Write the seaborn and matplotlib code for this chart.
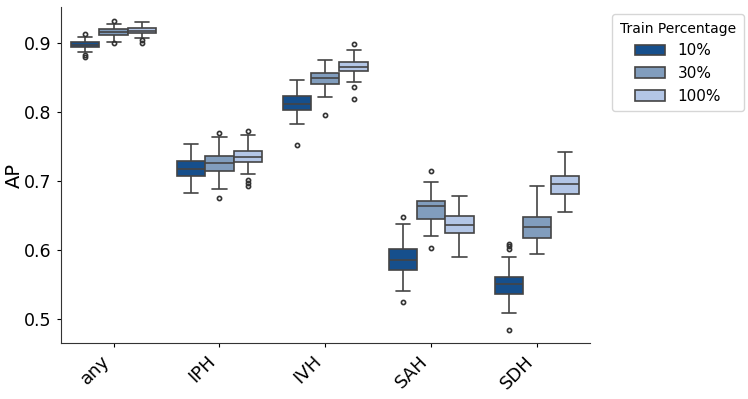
import matplotlib
matplotlib.use("Agg")
import matplotlib.pyplot as plt
import pandas as pd
import seaborn as sns

# Categories and hue levels
categories = ["any", "IPH", "IVH", "SAH", "SDH"]
groups = ["10%", "30%", "100%"]
colors = ["#164f8c", "#819dbd", "#b3c6e6"]

# Box statistics, one list per group (order = categories)
q1_10 = [0.8937, 0.7076, 0.8025, 0.5713, 0.5359]
med_10 = [0.8971, 0.7172, 0.8113, 0.5858, 0.5505]
q3_10 = [0.9004, 0.7288, 0.8229, 0.6008, 0.5601]
wlo_10 = [0.8859, 0.6818, 0.7822, 0.5407, 0.5087]
whi_10 = [0.9083, 0.7531, 0.8462, 0.6377, 0.5897]
out_lo_10 = [[0.882, 0.879], [], [0.7521], [0.5252], [0.4840]]
out_hi_10 = [[0.9127], [], [], [0.6470], [0.6087, 0.6055, 0.6015]]

q1_30 = [0.9116, 0.7148, 0.8404, 0.6450, 0.6174]
med_30 = [0.9156, 0.7265, 0.8495, 0.6629, 0.6338]
q3_30 = [0.9193, 0.7356, 0.8568, 0.6712, 0.6474]
wlo_30 = [0.9015, 0.6876, 0.8219, 0.6207, 0.5941]
whi_30 = [0.9276, 0.7628, 0.8743, 0.6978, 0.6920]
out_lo_30 = [[0.8990], [0.6745], [0.7957], [0.6033], []]
out_hi_30 = [[0.9320], [0.7686], [], [0.7148], []]

q1_100 = [0.9141, 0.7269, 0.8588, 0.6241, 0.6814]
med_100 = [0.9175, 0.7352, 0.8655, 0.6363, 0.6959]
q3_100 = [0.9208, 0.7439, 0.8724, 0.6484, 0.7070]
wlo_100 = [0.9063, 0.7095, 0.8433, 0.5902, 0.6556]
whi_100 = [0.9295, 0.7662, 0.8888, 0.6779, 0.7419]
out_lo_100 = [[0.9033, 0.9000], [0.7005, 0.6970, 0.6930], [0.8356, 0.8185], [], []]
out_hi_100 = [[], [0.7724], [0.8985], [], []]


def expand(q1, med, q3, wlo, whi, lo, hi):
    """Build 17 values whose linear percentiles give the drawn box."""
    low = lo + [wlo] * (4 - len(lo))
    high = hi + [whi] * (4 - len(hi))
    return low + [q1] + [med] * 3 + [med] + [med] * 3 + [q3] + high


stats = {
    "10%": (q1_10, med_10, q3_10, wlo_10, whi_10, out_lo_10, out_hi_10),
    "30%": (q1_30, med_30, q3_30, wlo_30, whi_30, out_lo_30, out_hi_30),
    "100%": (q1_100, med_100, q3_100, wlo_100, whi_100, out_lo_100, out_hi_100),
}

rows = []
for g in groups:
    s = stats[g]
    for i, cat in enumerate(categories):
        vals = expand(s[0][i], s[1][i], s[2][i], s[3][i], s[4][i], s[5][i], s[6][i])
        for v in vals:
            rows.append({"category": cat, "Train Percentage": g, "AP": v})
df = pd.DataFrame(rows)

sns.set_style("white")
plt.rcParams.update({
    "text.color": "black",
    "axes.labelcolor": "black",
    "xtick.color": "black",
    "ytick.color": "black",
    "axes.edgecolor": "#333333",
})

fig = plt.figure(figsize=(7.48, 3.99), dpi=100)
ax = fig.add_axes([0.0811, 0.1396, 0.7077, 0.8436])

sns.boxplot(
    data=df,
    x="category",
    y="AP",
    hue="Train Percentage",
    order=categories,
    hue_order=groups,
    palette=colors,
    saturation=1,
    width=0.8,
    linewidth=1.2,
    linecolor="#444444",
    flierprops=dict(marker="o", markersize=3, markerfacecolor="none",
                    markeredgecolor="#333333", markeredgewidth=1.2),
    ax=ax,
)

ax.set_ylim(0.4648, 0.9521)
ax.set_yticks([0.5, 0.6, 0.7, 0.8, 0.9])
ax.set_xlabel("")
ax.set_ylabel("AP", fontsize=14, labelpad=0)
ax.tick_params(axis="y", labelsize=12.5, left=True, length=3)
ax.tick_params(axis="x", labelsize=13, bottom=True, length=3)
plt.setp(ax.get_xticklabels(), rotation=45, ha="right")
sns.despine(ax=ax)

ax.legend(title="Train Percentage", loc="upper left",
          bbox_to_anchor=(1.042, 0.978), borderaxespad=0,
          fontsize=11, title_fontsize=10,
          handlelength=2.0, handletextpad=0.8, borderpad=0.5,
          labelspacing=0.5)

fig.savefig("out.png", dpi=100)
